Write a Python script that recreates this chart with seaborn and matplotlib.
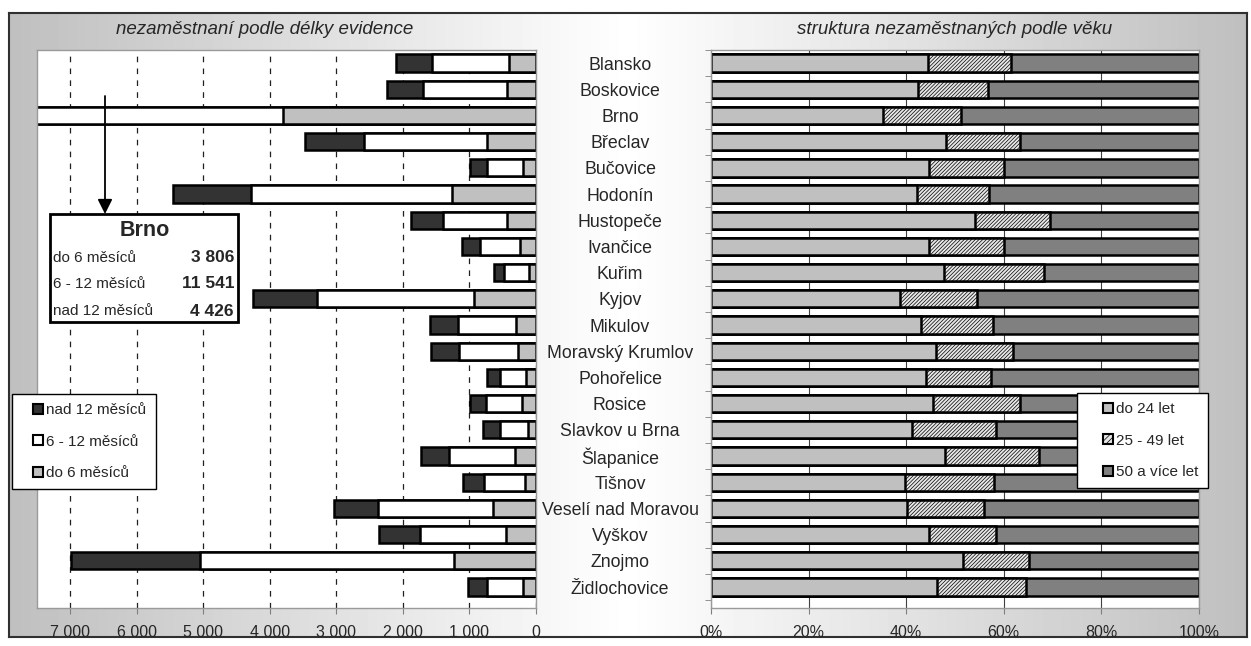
import numpy as np
import pandas as pd
import seaborn as sns
import matplotlib.pyplot as plt
from matplotlib.patches import Patch, Rectangle, FancyArrowPatch
from matplotlib.legend_handler import HandlerPatch

sns.set_style("white")
plt.rcParams['font.family'] = ['Liberation Sans', 'DejaVu Sans']
plt.rcParams['hatch.linewidth'] = 0.5


# DATA
okresy = ["Blansko", "Boskovice", "Brno", "Břeclav", "Bučovice", "Hodonín",
          "Hustopeče", "Ivančice", "Kuřim", "Kyjov", "Mikulov", "Moravský Krumlov",
          "Pohořelice", "Rosice", "Slavkov u Brna", "Šlapanice", "Tišnov",
          "Veselí nad Moravou", "Vyškov", "Znojmo", "Židlochovice"]

do_6 = [410, 433, 3806, 736, 195, 1256, 433, 233, 108, 931, 303, 276,
        152, 206, 119, 314, 162, 639, 449, 1234, 195]
m_6_12 = [1148, 1272, 11541, 1852, 541, 3032, 964, 612, 379, 2366, 866, 888,
          390, 541, 422, 991, 623, 1733, 1299, 3817, 536]
nad_12 = [552, 530, 4426, 877, 249, 1175, 476, 265, 146, 958, 428, 417,
          195, 244, 249, 428, 314, 661, 612, 1938, 287]

# podil v % podle veku
do_24 = [44.5, 42.5, 35.3, 48.2, 44.7, 42.2, 54.1, 44.7, 47.7, 38.7, 43.0, 46.2,
         44.0, 45.4, 41.1, 48.0, 39.8, 40.2, 44.6, 51.7, 46.4]
v_25_49 = [16.9, 14.3, 16.0, 15.1, 15.3, 14.8, 15.4, 15.3, 20.6, 15.9, 14.7, 15.6,
           13.3, 18.0, 17.4, 19.2, 18.1, 15.8, 13.9, 13.4, 18.1]

legenda_1 = ["nad 12 měsíců", "6 - 12 měsíců", "do 6 měsíců"]
legenda_2 = ["do 24 let", "25 - 49 let", "50 a více let"]

W, H = 1251, 646
C_DARK, C_LIGHT, C_MID = "#333333", "#c0c0c0", "#808080"
C_HATCH = "#e6e6e6"
HATCH = "/////////"


def fx(x):
    return x / W


def fy(y):
    return 1 - y / H


def ctverec(legend, orig_handle, xdescent, ydescent, width, height, fontsize):
    s = 7.2
    return Rectangle((-xdescent + width - s, -ydescent + (height - s) / 2), s, s)


df = pd.DataFrame({"okres": okresy, "do6": do_6, "m612": m_6_12, "nad12": nad_12,
                   "do24": do_24, "v2549": v_25_49})
df["c2"] = df.do6 + df.m612
df["c3"] = df.c2 + df.nad12
df["p2"] = df.do24 + df.v2549
df["p3"] = 100.0

fig = plt.figure(figsize=(W / 100, H / 100), dpi=100)

# pozadi s prechodem
bg = fig.add_axes([fx(9), fy(637), fx(1247 - 9), (637 - 13) / H], zorder=-5)
t = np.linspace(0, 1, 400)
grad = 0.75 + 0.25 * (1 - np.abs(t - 0.5) * 2)
bg.imshow(grad[np.newaxis, :], cmap="gray", vmin=0, vmax=1, aspect="auto",
          extent=(0, 1, 0, 1))
bg.set_xticks([])
bg.set_yticks([])
for s in bg.spines.values():
    s.set_color("#303030")
    s.set_linewidth(1.5)

n = len(okresy)
top, bottom = 50, 608
krok = (587 - 63) / (n - 1)
ylo = -(63 - top) / krok
yhi = (n - 1) + (bottom - 587) / krok

ax1 = fig.add_axes([fx(37), fy(bottom), fx(536 - 37), (bottom - top) / H])
ax2 = fig.add_axes([fx(711), fy(bottom), fx(1199 - 711), (bottom - top) / H])

kw = dict(y="okres", orient="h", width=0.66, edgecolor="black", linewidth=1.8,
          saturation=1, errorbar=None)

# levy graf - delka evidence
sns.barplot(data=df, x="c3", color=C_DARK, ax=ax1, **kw)
sns.barplot(data=df, x="c2", color="white", ax=ax1, **kw)
sns.barplot(data=df, x="do6", color=C_LIGHT, ax=ax1, **kw)

ax1.set_xlim(7500, 0)
ax1.set_ylim(yhi, ylo)
ticks = np.arange(0, 7001, 1000)
ax1.set_xticks(ticks)
ax1.set_xticklabels([f"{v:,}".replace(",", " ") for v in ticks], fontsize=11.5)
ax1.xaxis.grid(True, linestyle=(0, (4.5, 5)), color="#202020", linewidth=0.9)
ax1.set_axisbelow(True)
ax1.tick_params(axis="y", left=False, labelleft=False)
ax1.tick_params(axis="x", bottom=True, direction="out", length=4, color="#808080", pad=8)
ax1.set_xlabel("")
ax1.set_ylabel("")
for s in ax1.spines.values():
    s.set_color("#9a9a9a")
    s.set_linewidth(1)

# pravy graf - struktura podle veku
sns.barplot(data=df, x="p3", color=C_MID, ax=ax2, **kw)
n0 = len(ax2.patches)
sns.barplot(data=df, x="p2", color=C_HATCH, ax=ax2, **kw)
for p in ax2.patches[n0:]:
    p.set_hatch(HATCH)
sns.barplot(data=df, x="do24", color=C_LIGHT, ax=ax2, **kw)

ax2.set_xlim(0, 100)
ax2.set_ylim(yhi, ylo)
pt = np.arange(0, 101, 20)
ax2.set_xticks(pt)
ax2.set_xticklabels([f"{v}%" for v in pt], fontsize=11.5)
ax2.xaxis.grid(True, color="#404040", linewidth=0.8)
ax2.set_axisbelow(True)
ax2.set_yticks(range(n))
ax2.set_yticklabels(okresy, fontsize=12.8)
ax2.set_yticks(np.arange(-0.5, n, 1), minor=True)
ax2.tick_params(axis="y", which="major", left=True, length=0, pad=65.5)
ax2.tick_params(axis="y", which="minor", left=True, length=4, color="#808080")
for lab in ax2.get_yticklabels():
    lab.set_ha("center")
ax2.tick_params(axis="x", bottom=True, direction="out", length=4, color="#808080", pad=8)
ax2.set_xlabel("")
ax2.set_ylabel("")
for s in ax2.spines.values():
    s.set_color("#9a9a9a")
    s.set_linewidth(1)

# nadpisy
fig.text(fx(265), fy(30), "nezaměstnaní podle délky evidence", style="italic",
         fontsize=13.5, ha="center", va="center")
fig.text(fx(955), fy(30), "struktura nezaměstnaných podle věku", style="italic",
         fontsize=13.5, ha="center", va="center")

# legendy
h1 = [Patch(facecolor=c, edgecolor="black", linewidth=1.5) for c in (C_DARK, "white", C_LIGHT)]
h2 = [Patch(facecolor=C_LIGHT, edgecolor="black", linewidth=1.5),
      Patch(facecolor=C_HATCH, edgecolor="black", linewidth=1.5, hatch="//////"),
      Patch(facecolor=C_MID, edgecolor="black", linewidth=1.5)]
leg_kw = dict(loc="upper left", bbox_transform=fig.transFigure, frameon=True,
              fancybox=False, edgecolor="black", framealpha=1, borderaxespad=0,
              fontsize=11, handleheight=0.75, handletextpad=0.2,
              labelspacing=1.15, borderpad=0.6,
              handler_map={Patch: HandlerPatch(patch_func=ctverec)})
l1 = fig.legend(h1, legenda_1, bbox_to_anchor=(fx(12), fy(394)),
                handlelength=1.45, **leg_kw)
l2 = fig.legend(h2, legenda_2, bbox_to_anchor=(fx(1077), fy(393)),
                handlelength=1.75, **leg_kw)
for l in (l1, l2):
    l.get_frame().set_linewidth(1)

# popisek Brno
fig.add_artist(Rectangle((fx(50), fy(322)), fx(238 - 50), (322 - 214) / H,
                         transform=fig.transFigure, facecolor="white",
                         edgecolor="black", linewidth=2, zorder=6))
fig.text(fx(145), fy(230), okresy[2], fontsize=15.5, weight="bold", ha="center",
         va="center", zorder=7)
popisky = ["do 6 měsíců", "6 - 12 měsíců", "nad 12 měsíců"]
hodnoty = [do_6[2], m_6_12[2], nad_12[2]]
for lab, val, yy in zip(popisky, hodnoty, (258, 284, 311)):
    fig.text(fx(53), fy(yy), lab, fontsize=11, ha="left", va="center", zorder=7)
    fig.text(fx(234), fy(yy), f"{val:,}".replace(",", " "), fontsize=12.5,
             weight="bold", ha="right", va="center", zorder=7)

fig.add_artist(FancyArrowPatch((fx(105), fy(96)), (fx(105), fy(214)),
                               transform=fig.transFigure, arrowstyle="-|>",
                               mutation_scale=22, color="black", linewidth=1.3,
                               shrinkA=0, shrinkB=0, zorder=7))

fig.savefig("out.png", dpi=100)
